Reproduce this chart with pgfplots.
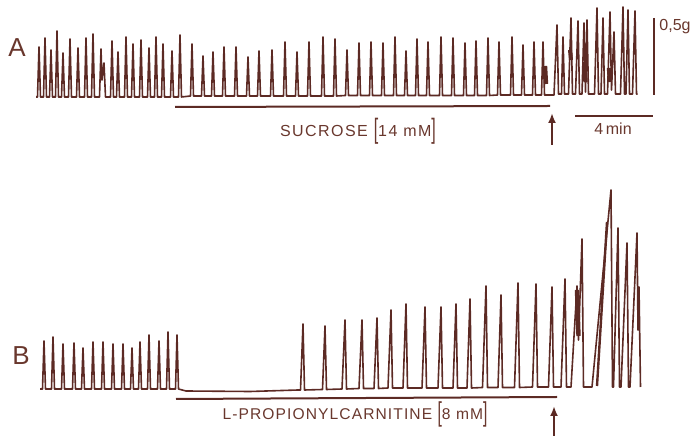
\documentclass[border=0pt]{standalone}
\usepackage{pgfplots}
\pgfplotsset{compat=1.18}
\usetikzlibrary{arrows.meta}
\usepackage{fontspec}
\setmainfont{Liberation Sans}
\newfontfamily\lab[LetterSpace=7]{Liberation Sans}
\newfontfamily\labw[LetterSpace=9]{Liberation Sans}
\definecolor{trace}{RGB}{92,42,36}
\definecolor{txt}{RGB}{105,55,45}
\newcommand\bigbr[1]{\raisebox{-0.1em}{\scalebox{1}[1.75]{#1}}}
\pgfplotsset{tr/.style={draw=trace, solid, line width=0.8pt, line join=round, mark=none}}
\begin{document}
\begin{tikzpicture}
\begin{axis}[
  scale only axis, width=348pt, height=218.5pt,
  xmin=0, xmax=696, ymin=0, ymax=437, y dir=reverse,
  axis lines=none, clip=false,
]
\addplot[draw=none, mark=none] coordinates {(0,0) (696,437)};
% ---------- trace A ----------
\addplot[tr] coordinates {
(36,97)
(37.5,97)(39,47)(40.5,97)
(43.5,97)(45,38)(46.5,97)
(49.5,97)(51,50)(52.5,97)
(55.5,97)(57,31)(58.5,97)
(61.5,97)(63,53)(64.5,97)
(68.5,97)(70,39)(71.5,97)
(76.5,97)(78,48)(79.5,97)
(84.5,97)(86,38)(87.5,97)
(91.5,97)(93,34)(94.5,97)
(99.5,97)(101,49)(102,80)(104,63)(105.5,97)
(110.5,97)(112,41)(113.5,97)
(116.5,97)(118,52)(119.5,97)
(124.5,97)(126,37)(127.5,97)
(131.5,97)(133,44)(134.5,97)
(139.5,97)(141,40)(142.5,97)
(147.5,97)(149,48)(150.5,97)
(154.5,97)(156,37)(157.5,97)
(161.5,97)(163,44)(164.5,97)
(170.5,97)(172,51)(173.5,97)
(178.5,97)(180,35)(181.5,97)
(190.5,96)(192,44)(193.5,96)
(201.5,96)(203,56)(204.5,96)
(211.5,96)(213,52)(214.5,96)
(222.5,96)(224,47)(225.5,96)
(234.5,96)(236,47)(237.5,96)
(246.5,96)(248,57)(249.5,96)
(257.5,96)(259,51)(260.5,96)
(270.5,96)(272,50)(273.5,96)
(283.5,96)(285,42)(286.5,96)
(295.5,96)(297,52)(298.5,96)
(307.5,96)(309,42)(310.5,96)
(321.5,96)(323,37)(324.5,96)
(333.5,96)(335,39)(336.5,96)
(345.5,95.5)(347,50)(348.5,95.5)
(357.5,95.5)(359,43)(360.5,95.5)
(369.5,95.5)(371,42)(372.5,95.5)
(381.5,95.5)(383,43)(384.5,95.5)
(393.5,95.5)(395,37)(396.5,95.5)
(404.5,95.5)(406,51)(407.5,95.5)
(415.5,95.5)(417,39)(418.5,95.5)
(426.5,95.5)(428,42)(429.5,95.5)
(439.5,95.5)(441,37)(442.5,95.5)
(451.5,95.5)(453,38)(454.5,95.5)
(463.5,95.5)(465,43)(466.5,95.5)
(474.5,95.5)(476,41)(477.5,95.5)
(486.5,95.5)(488,38)(489.5,95.5)
(497.5,95)(499,42)(500.5,95)
(510.5,95)(512,37)(513.5,95)
(521.5,95)(523,45)(524.5,95)
(532.5,95)(534,42)(535.5,95)
(541.5,95)(543,42)(544.5,95)
(554,95)(557,25)(558.5,94)
(561.5,94)(563,37)(564.5,94)
(568.5,94)(571,18)(572.5,94)
(575.5,94)(578,21)(579.5,94)
(582,94)(584,23)(585.5,92)(587,20)(588.5,94)
(594.5,94)(597,8)(598.5,94)
(601,94)(603,18)(604.5,94)
(607.5,94)(610,12)(611.5,90)(614,32)(615.5,94)
(620.5,94)(623,7)(624.5,94)
(626,94)(628,10)(629.5,94)
(632.5,94)(635,11)(636.5,94)
(637.5,94)
};
\addplot[tr, line width=2.2pt] coordinates {(545,66)(546,84)};
\addplot[tr, line width=2pt] coordinates {(570,50)(571,60)};
\addplot[tr, line width=2.2pt] coordinates {(584.5,62)(585.5,82)};
\addplot[tr, line width=2.2pt] coordinates {(609,68)(610,82)};
% ---------- trace B ----------
\addplot[tr] coordinates {
(40,389)
(42.5,389)(44,341)(45.5,389)
(51.5,389)(53,337)(54.5,389)
(61.5,389)(63,344)(64.5,389)
(72.5,389)(74,343)(75.5,389)
(81.5,389)(83,348)(84.5,389)
(91.5,389)(93,342)(94.5,389)
(101.5,389)(103,342)(104.5,389)
(111.5,389)(113,344)(114.5,389)
(121.5,389)(123,344)(124.5,389)
(130.5,389)(132,348)(133.5,389)
(138.5,389)(140,342)(141.5,389)
(147.5,389)(149,335)(150.5,389)
(157.5,389)(159,341)(160.5,389)
(166.5,389)(168,332)(169.5,389)
(175.5,389)(177,335)(178.5,389)
(186,391)(250,391.5)(298,390)
(300.5,390)(303,324)(304.5,390)
(322.5,389.5)(325,326)(326.5,389.5)
(342,389)(345,320)(346.5,389)
(359,388.5)(362,320)(363.5,388.5)
(374,388.5)(377,318)(378.5,388.5)
(388,388)(391,310)(392.5,388)
(403,388)(406,304)(407.5,388)
(422,388)(425,307)(426.5,388)
(438,388)(441,307)(442.5,388)
(453,388)(456,304)(457.5,388)
(467,388)(470,299)(471.5,388)
(482.5,387.5)(486,286)(487.5,387.5)
(498,387.5)(501,295)(502.5,387.5)
(514.5,387.5)(518,283)(519.5,387.5)
(532.5,387)(536,284)(537.5,387)
(548.5,387)(552,287)(553.5,387)
(561,387)(565,279)(566.5,387)
(571,387)(577,286)(578.5,340)(582,239)(583.5,387)
(592,387)(611,190)(612.5,387)
(613.5,387)(618,228)(619.5,387)
(621,387)(627,243)(628.5,387)
(630,387)(637,233)(638,330)(639,287)(640.5,387)
};
\addplot[tr, line width=2.2pt] coordinates {(577,290)(578.5,336)};
\addplot[tr, line width=1.2pt] coordinates {(597,386)(607,222)};
% ---------- bars and arrows ----------
\addplot[tr, line width=1pt] coordinates {(175,107)(550,106)};
\addplot[tr, line width=1pt] coordinates {(176,399)(557,397)};
\addplot[tr, line width=1pt] coordinates {(575,116)(653,116)};
\addplot[tr, line width=0.8pt] coordinates {(654,18)(654,95)};
\addplot[tr, line width=1pt, -{Latex[length=5pt,width=4pt]}] coordinates {(552,145)(552,113)};
\addplot[tr, line width=1pt, -{Latex[length=5pt,width=4pt]}] coordinates {(554,436)(554,406)};
% ---------- text ----------
\node[txt, inner sep=0pt, font=\fontsize{13}{15}\selectfont] at (axis cs:17,48) {A};
\node[txt, inner sep=0pt, font=\fontsize{13}{15}\selectfont] at (axis cs:21,356) {B};
\node[txt, inner sep=0pt, font=\labw\fontsize{8}{9}\selectfont] at (axis cs:358,131) {SUCROSE \bigbr{[}14 mM\bigbr{]}};
\node[txt, inner sep=0pt, font=\lab\fontsize{7.8}{9}\selectfont] at (axis cs:355,414) {L-PROPIONYLCARNITINE \bigbr{[}8 mM\bigbr{]}};
\node[txt, inner sep=0pt, font=\fontsize{8}{9}\selectfont] at (axis cs:613,129) {4\,min};
\node[txt, inner sep=0pt, font=\fontsize{8}{9}\selectfont, anchor=west] at (axis cs:659,27) {0,5g};
\end{axis}
\end{tikzpicture}
\end{document}
